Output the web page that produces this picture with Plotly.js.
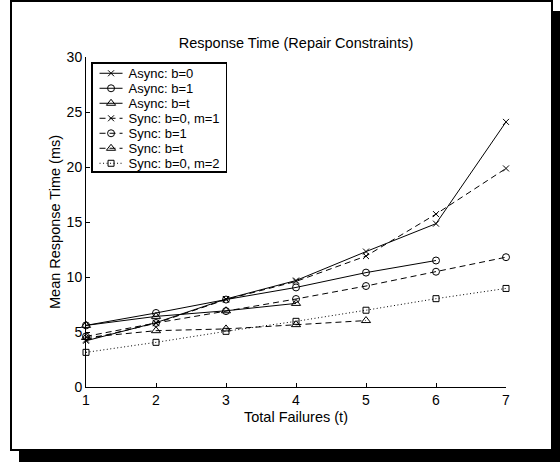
<!DOCTYPE html>
<html>
<head>
<meta charset="utf-8">
<script src="https://cdn.plot.ly/plotly-3.0.1.min.js"></script>
<style>
  html, body { margin: 0; padding: 0; background: #fff; }
  #wrap { position: relative; width: 560px; height: 462px; overflow: hidden; }
  #frame { position: absolute; left: 10px; top: 0px; width: 539px; height: 447px;
           border: 2px solid #000; background: #fff; box-shadow: 9px 11px 0 #000; }
  #chart { position: absolute; left: 0; top: 0; width: 560px; height: 462px; }
</style>
</head>
<body>
<div id="wrap">
  <div id="frame"></div>
  <div id="chart"></div>
</div>
<script>
const failures = [1, 2, 3, 4, 5, 6, 7];

const asyncB0   = [4.2, 5.85, 8.0, 9.68, 12.31, 14.85, 24.1];
const asyncB1   = [5.6, 6.73, 7.95, 9.05, 10.4, 11.5];
const asyncBt   = [5.6, 6.42, 6.93, 7.6];
const syncB0M1  = [4.3, 5.8, 7.95, 9.6, 11.9, 15.72, 19.87];
const syncB1    = [4.6, 5.82, 6.9, 8.0, 9.18, 10.48, 11.8];
const syncBt    = [4.5, 5.12, 5.28, 5.67, 6.04];
const syncB0M2  = [3.15, 4.06, 5.06, 5.97, 6.98, 8.03, 8.96];

const seriesNames = ["Async: b=0", "Async: b=1", "Async: b=t",
                     "Sync: b=0, m=1", "Sync: b=1", "Sync: b=t", "Sync: b=0, m=2"];

const titleText = "Response Time (Repair Constraints)";
const xTitle = "Total Failures (t)";
const yTitle = "Mean Response Time (ms)";

const DASH = "6px,4px";
const DOT = "1px,2.5px";

function tr(name, ys, dash, symbol, msize) {
  return {
    type: "scatter", mode: "lines+markers", name: name,
    x: failures.slice(0, ys.length), y: ys,
    cliponaxis: false,
    line: { color: "#000", width: 1, dash: dash },
    marker: { symbol: symbol, size: msize, color: "#000",
              line: { color: "#000", width: 1 } }
  };
}

const data = [
  tr(seriesNames[0], asyncB0, "solid", "x-thin-open", 6),
  tr(seriesNames[1], asyncB1, "solid", "circle-open", 7),
  tr(seriesNames[2], asyncBt, "solid", "triangle-up-open", 8),
  tr(seriesNames[3], syncB0M1, DASH, "x-thin-open", 6),
  tr(seriesNames[4], syncB1, DASH, "circle-open", 7),
  tr(seriesNames[5], syncBt, DASH, "triangle-up-open", 8),
  tr(seriesNames[6], syncB0M2, DOT, "square-open", 6)
];

const font = { family: "Liberation Sans, Arial, Helvetica, sans-serif", color: "#000" };

const layout = {
  width: 560, height: 462,
  margin: { l: 86, r: 54, t: 57, b: 75, pad: 0 },
  paper_bgcolor: "rgba(0,0,0,0)",
  plot_bgcolor: "rgba(0,0,0,0)",
  font: Object.assign({ size: 14 }, font),
  showlegend: true,
  title: { text: titleText, font: Object.assign({ size: 14.5 }, font),
           x: 0.5286, xanchor: "center", y: 1 - 43 / 462, yanchor: "middle", yref: "container" },
  xaxis: {
    range: [1, 7], dtick: 1, tick0: 1,
    showgrid: false, zeroline: false,
    showline: true, linecolor: "#000", linewidth: 1,
    ticks: "inside", ticklen: 4, tickcolor: "#000", tickwidth: 1,
    tickfont: Object.assign({ size: 14 }, font),
    title: { text: xTitle, font: Object.assign({ size: 14.5 }, font), standoff: 5 }
  },
  yaxis: {
    range: [0, 30], dtick: 5, tick0: 0,
    showgrid: false, zeroline: false,
    showline: true, linecolor: "#000", linewidth: 1,
    ticks: "inside", ticklen: 4, tickcolor: "#000", tickwidth: 1,
    tickfont: Object.assign({ size: 14 }, font),
    title: { text: yTitle, font: Object.assign({ size: 14.5 }, font), standoff: 2 }
  },
  legend: {
    x: 0.012, y: 0.984, xanchor: "left", yanchor: "top",
    bgcolor: "#fff", bordercolor: "#000", borderwidth: 1.5,
    font: Object.assign({ size: 13 }, font),
    itemwidth: 30, tracegroupgap: 0
  }
};

function compactLegend(gd) {
  try {
    const leg = gd.querySelector(".legend");
    if (!leg) return;
    const items = Array.from(leg.querySelectorAll(".traces"));
    if (items.length < 2) return;
    const getXY = el => {
      const m = /translate\(\s*([-\d.]+)[ ,]+([-\d.]+)/.exec(el.getAttribute("transform") || "");
      return m ? [parseFloat(m[1]), parseFloat(m[2])] : [0, 0];
    };
    const first = getXY(items[0]);
    const step = 15, top = 11, bottom = 8;
    items.forEach((el, i) => {
      el.setAttribute("transform", "translate(" + first[0] + "," + (top + i * step) + ")");
      el.querySelectorAll(".legendlines path").forEach(p => p.setAttribute("d", "M7,0h23"));
      el.querySelectorAll(".legendpoints path").forEach(p => {
        p.setAttribute("transform", "translate(18.5,0)");
      });
      const t = el.querySelector(".legendtext");
      if (t) t.setAttribute("x", "36");
    });
    const bg = leg.querySelector(".bg");
    if (bg) {
      bg.setAttribute("height", top + (items.length - 1) * step + bottom);
      const w = parseFloat(bg.getAttribute("width"));
      bg.setAttribute("width", w - 4);
    }
  } catch (e) { /* leave default legend */ }
}

Plotly.newPlot("chart", data, layout, { staticPlot: true, displayModeBar: false })
  .then(gd => compactLegend(gd));
</script>
</body>
</html>
